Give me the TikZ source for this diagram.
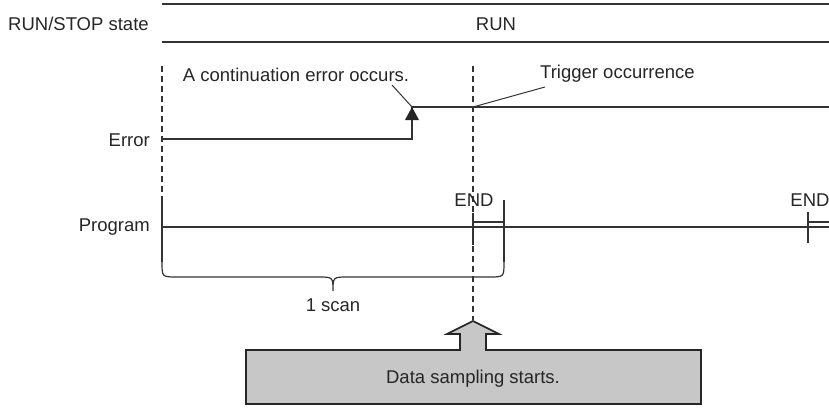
\documentclass[tikz,border=0pt]{standalone}
\usepackage{fontspec}
\setmainfont{Liberation Sans}
\begin{document}
\begin{tikzpicture}[x=1pt,y=-1pt,
  ln/.style={line width=1.2pt,draw=black!80},
  dsh/.style={line width=1.2pt,draw=black!80,dash pattern=on 6pt off 4pt},
  lbl/.style={inner sep=0pt,font=\fontsize{18.5}{21}\selectfont,text=black!85},
  bigarrow/.style={line width=1.6pt,draw=black!85,fill=black!22,line join=miter}]
\useasboundingbox (0,0) rectangle (829,407);
% RUN/STOP band
\coordinate (t1) at (162,4); \coordinate (t2) at (829,4);
\coordinate (b1) at (162,42); \coordinate (b2) at (829,42);
\draw[ln] (t1) -- (t2);
\draw[ln] (b1) -- (b2);
\node[lbl,anchor=west] (rs) at (8,24) {RUN/STOP state};
\node[lbl] (run) at (496,24) {RUN};
% labels
\node[lbl,anchor=east] (err) at (150,140) {Error};
\node[lbl,anchor=east] (prg) at (150,227) {Program};
\node[lbl] (cont) at (296,75) {A continuation error occurs.};
\node[lbl,anchor=west] (trig) at (540,74) {Trigger occurrence};
% dashed verticals
\coordinate (d1a) at (162,66); \coordinate (d1b) at (162,196);
\coordinate (d2a) at (473,66); \coordinate (d2b) at (473,320);
\draw[dsh] (d1a) -- (d1b);
\draw[dsh] (d2a) -- (d2b);
% Error signal
\coordinate (e0) at (162,139); \coordinate (e1) at (412,139);
\coordinate (e2) at (412,107); \coordinate (e3) at (829,107);
\draw[ln] (e0) -- (e1) -- (e2) -- (e3);
\fill[black!85] (e2) -- ++(-7,13) -- ++(14,0) -- cycle;
% leaders
\coordinate (l1) at (392,85);
\coordinate (trg) at (473,107); \coordinate (l2) at (545,87);
\draw[ln,line width=1pt] (e2) -- (l1);
\draw[ln,line width=1pt] (trg) -- (l2);
% Program line
\coordinate (p0) at (162,227); \coordinate (p1) at (829,227);
\draw[ln] (p0) -- (p1);
\coordinate (s0) at (162,196); \coordinate (s1) at (162,262);
\draw[ln] (s0) -- (s1);
% END block 1
\coordinate (ea) at (473,213); \coordinate (eb) at (473,245);
\coordinate (ec) at (504,200); \coordinate (ed) at (504,262);
\coordinate (ee) at (473,222); \coordinate (ef) at (504,222);
\draw[ln] (ea) -- (eb);
\draw[ln] (ec) -- (ed);
\draw[ln] (ee) -- (ef);
\node[lbl] (end1) at (474,200) {END};
% END block 2
\coordinate (fa) at (808,212); \coordinate (fb) at (808,243);
\coordinate (fc) at (808,222); \coordinate (fd) at (829,222);
\draw[ln] (fa) -- (fb);
\draw[ln] (fc) -- (fd);
\node[lbl] (end2) at (810,200) {END};
% brace
\coordinate (br0) at (162,262); \coordinate (br1) at (504,262);
\coordinate (tip) at (333,291);
\draw[ln] (br0) .. controls (162,277) .. (177,277) -- (318,277)
  .. controls (333,277) .. (tip) .. controls (333,277) .. (348,277)
  -- (489,277) .. controls (504,277) .. (br1);
\node[lbl] (scan) at (333,305) {1 scan};
% big arrow box
\draw[bigarrow] (246,350) -- (460,350) -- (460,334) -- (447,334) -- (473,321)
  -- (499,334) -- (486,334) -- (486,350) -- (701,350) -- (701,404)
  -- (246,404) -- cycle;
\node[lbl] (ds) at (473,379) {Data sampling starts.};
\end{tikzpicture}
\end{document}
